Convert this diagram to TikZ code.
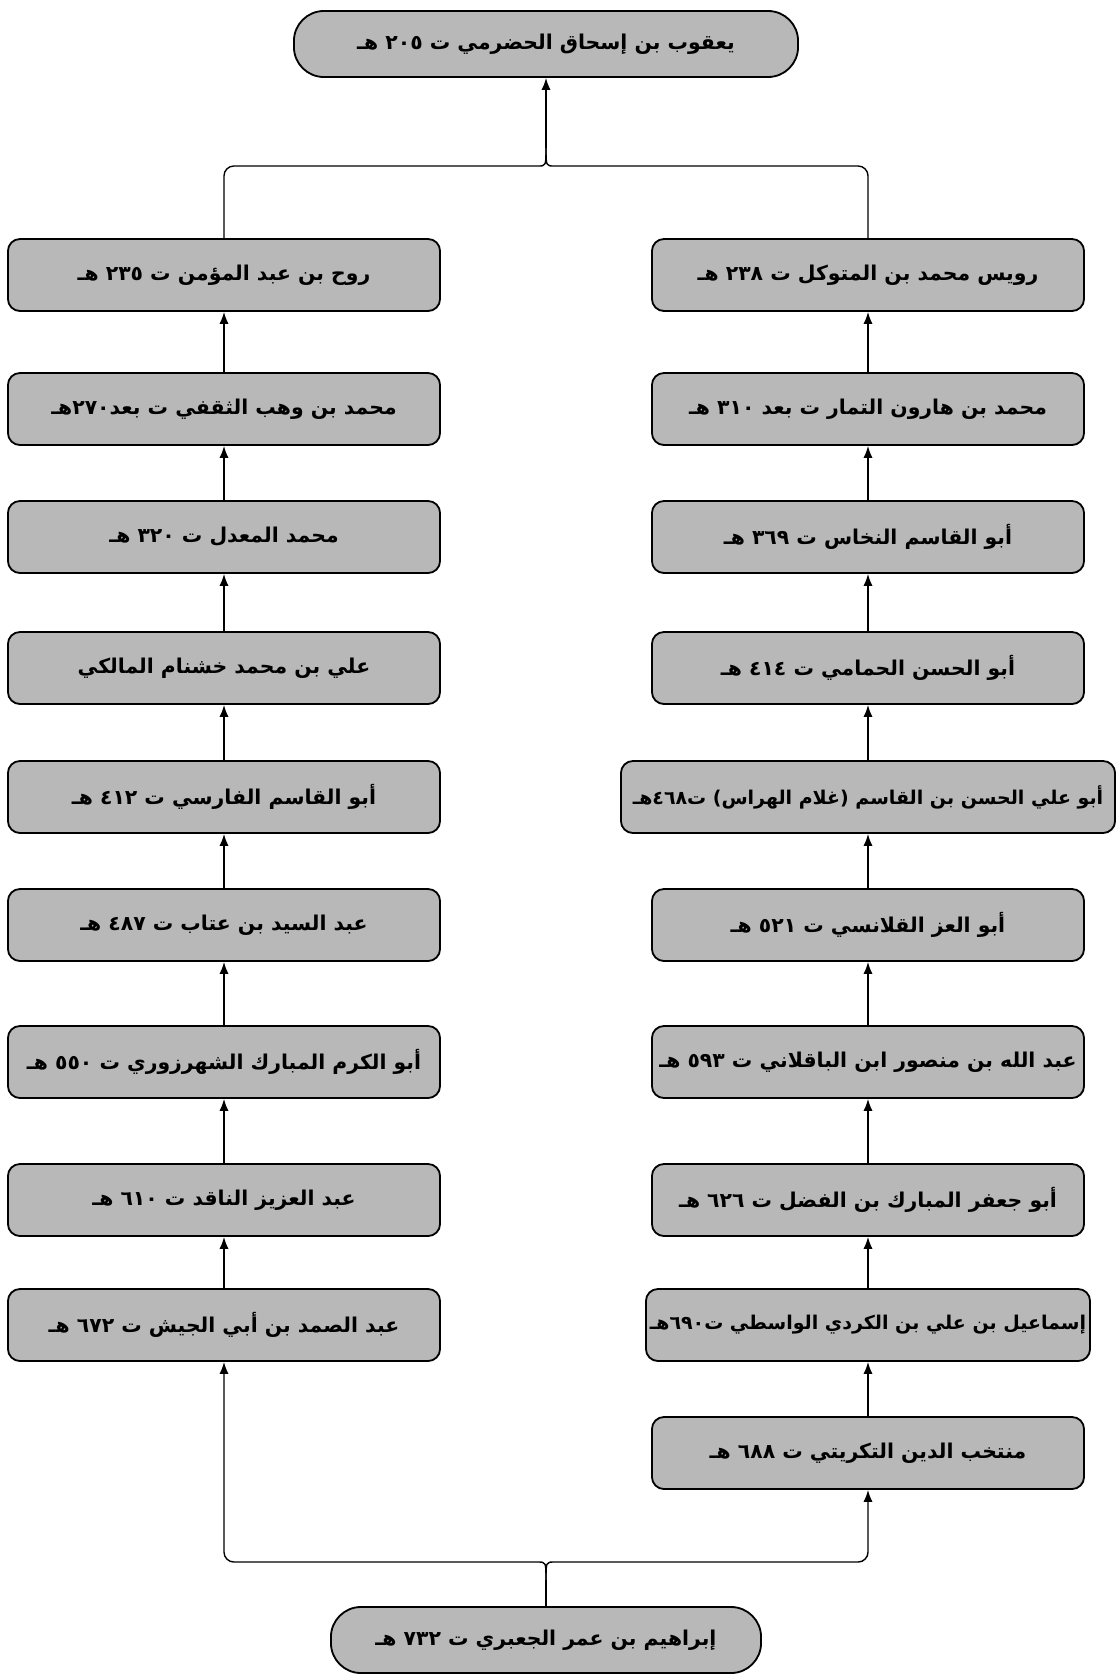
\documentclass[tikz,border=0pt]{standalone}
\usepackage{fontspec}
\newfontfamily\arabicfont[Script=Arabic]{DejaVu Sans}
\TeXXeTstate=1
\usetikzlibrary{calc,arrows.meta}

\newcommand\ar[1]{\arabicfont\bfseries\beginR #1\endR}

\tikzset{
	caja/.style={draw,line width=1.3pt,fill=\cajafill,rounded corners=0.3cm,
		minimum width=10.8cm,minimum height=1.8cm,inner sep=2pt,
		font=\fontsize{14.5}{17}\selectfont},
	pildora/.style={caja,rounded corners=0.75cm,minimum height=1.65cm},
	larga/.style={font=\fontsize{13.5}{16}\selectfont},  % textos largos
	linea/.style={draw,line width=1pt,rounded corners=7pt},
	flecha/.style={linea,-{Latex[length=8.5pt,width=6.5pt]}}
}

\begin{document}
\begin{tikzpicture}[x=0.025cm,y=-0.025cm]
	\def\cajafill{black!28}  % gris de las cajas
	\useasboundingbox (0,0) rectangle (1118,1679);

	\node[pildora,minimum width=12.6cm] (yaqub) at (546,44) {\ar{يعقوب بن إسحاق الحضرمي ت ٢٠٥ هـ}};

	% columna izquierda
	\node[caja] (l1) at (224,275)  {\ar{روح بن عبد المؤمن ت ٢٣٥ هـ}};
	\node[caja] (l2) at (224,409)  {\ar{محمد بن وهب الثقفي ت بعد٢٧٠هـ}};
	\node[caja] (l3) at (224,537)  {\ar{محمد المعدل ت ٣٢٠ هـ}};
	\node[caja] (l4) at (224,668)  {\ar{علي بن محمد خشنام المالكي}};
	\node[caja] (l5) at (224,797)  {\ar{أبو القاسم الفارسي ت ٤١٢ هـ}};
	\node[caja] (l6) at (224,925)  {\ar{عبد السيد بن عتاب ت ٤٨٧ هـ}};
	\node[caja] (l7) at (224,1062) {\ar{أبو الكرم المبارك الشهرزوري ت ٥٥٠ هـ}};
	\node[caja] (l8) at (224,1200) {\ar{عبد العزيز الناقد ت ٦١٠ هـ}};
	\node[caja] (l9) at (224,1325) {\ar{عبد الصمد بن أبي الجيش ت ٦٧٢ هـ}};

	% columna derecha
	\node[caja] (r1) at (868,275)  {\ar{رويس محمد بن المتوكل ت ٢٣٨ هـ}};
	\node[caja] (r2) at (868,409)  {\ar{محمد بن هارون التمار ت بعد ٣١٠ هـ}};
	\node[caja] (r3) at (868,537)  {\ar{أبو القاسم النخاس ت ٣٦٩ هـ}};
	\node[caja] (r4) at (868,668)  {\ar{أبو الحسن الحمامي ت ٤١٤ هـ}};
	\node[caja,larga,minimum width=12.35cm] (r5) at (868,797) {\ar{أبو علي الحسن بن القاسم (غلام الهراس) ت٤٦٨هـ}};
	\node[caja] (r6) at (868,925)  {\ar{أبو العز القلانسي ت ٥٢١ هـ}};
	\node[caja] (r7) at (868,1062) {\ar{عبد الله بن منصور ابن الباقلاني ت ٥٩٣ هـ}};
	\node[caja] (r8) at (868,1200) {\ar{أبو جعفر المبارك بن الفضل ت ٦٢٦ هـ}};
	\node[caja,larga,minimum width=11.1cm] (r9) at (868,1325) {\ar{إسماعيل بن علي بن الكردي الواسطي ت٦٩٠هـ}};
	\node[caja] (r10) at (868,1453) {\ar{منتخب الدين التكريتي ت ٦٨٨ هـ}};

	\node[pildora,minimum width=10.75cm] (jabari) at (546,1640) {\ar{إبراهيم بن عمر الجعبري ت ٧٣٢ هـ}};

	% flechas entre cajas
	\foreach \i/\j in {2/1,3/2,4/3,5/4,6/5,7/6,8/7,9/8} \draw[flecha] (l\i.north) -- (l\j.south);
	\foreach \i/\j in {2/1,3/2,4/3,5/4,6/5,7/6,8/7,9/8,10/9} \draw[flecha] (r\i.north) -- (r\j.south);

	% llave de arriba
	\coordinate (arriba) at (546,148);
	\draw[linea] (l1.north) |- ($(arriba)+(-18,18)$) .. controls ($(arriba)+(0,18)$) .. (arriba);
	\draw[linea] (r1.north) |- ($(arriba)+(18,18)$) .. controls ($(arriba)+(0,18)$) .. (arriba);
	\draw[flecha] (arriba) -- (yaqub.south);

	% llave de abajo
	\coordinate (abajo) at (546,1580);
	\draw[linea] (jabari.north) -- (abajo);
	\draw[flecha] (abajo) .. controls ($(abajo)+(0,-18)$) .. ($(abajo)+(-18,-18)$) -| (l9.south);
	\draw[flecha] (abajo) .. controls ($(abajo)+(0,-18)$) .. ($(abajo)+(18,-18)$) -| (r10.south);
\end{tikzpicture}
\end{document}
